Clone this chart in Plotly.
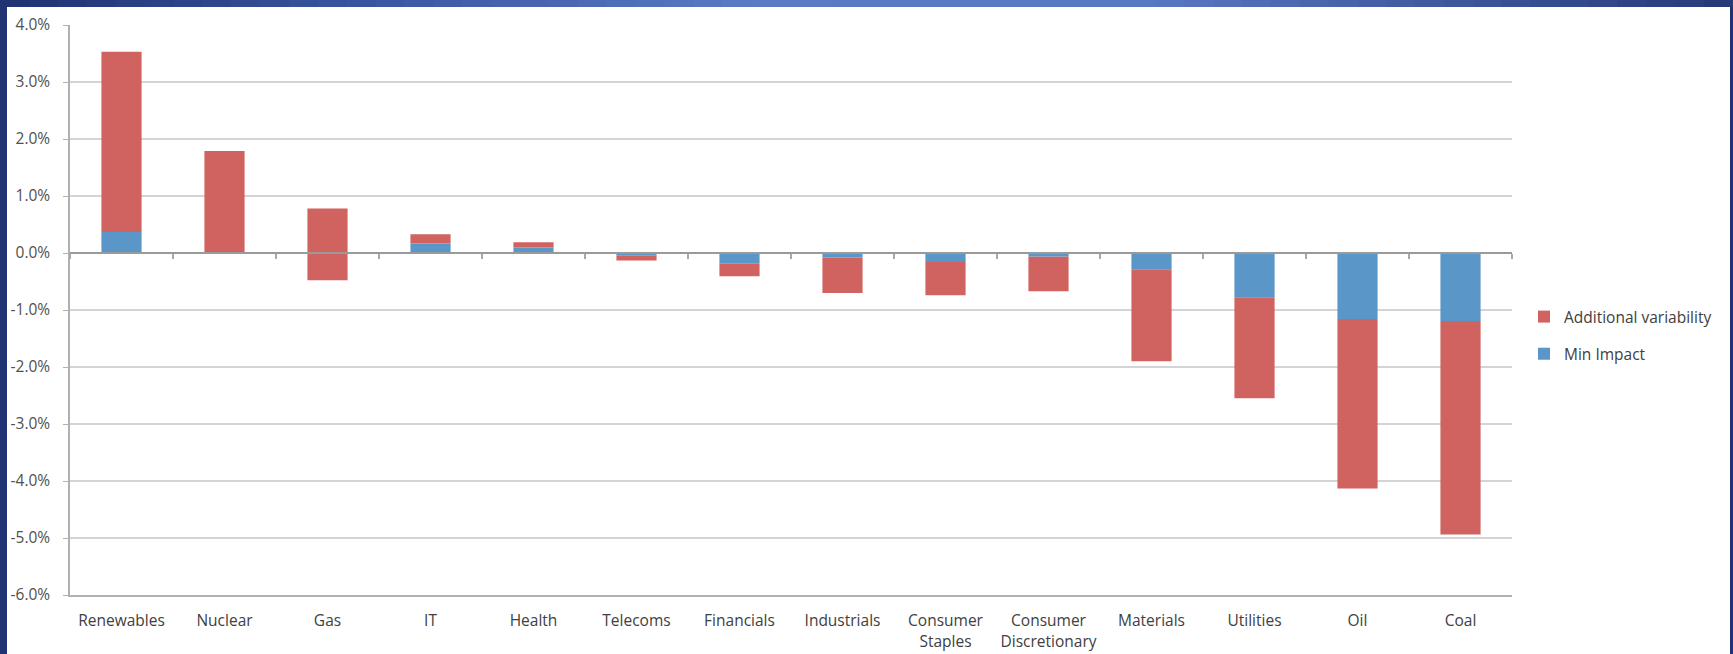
import plotly.graph_objects as go

# ---- data (percent) ----
categories = ["Renewables", "Nuclear", "Gas", "IT", "Health", "Telecoms", "Financials",
              "Industrials", "Consumer<br>Staples", "Consumer<br>Discretionary",
              "Materials", "Utilities", "Oil", "Coal"]
min_impact = [0.37, 0.0, 0.0, 0.165, 0.095, -0.05, -0.19, -0.08, -0.16, -0.06,
              -0.285, -0.775, -1.16, -1.195]
add_start = [0.37, 0.0, -0.48, 0.165, 0.095, -0.05, -0.19, -0.08, -0.16, -0.06,
             -0.285, -0.775, -1.16, -1.195]
add_end = [3.53, 1.79, 0.78, 0.33, 0.19, -0.13, -0.41, -0.70, -0.74, -0.67,
           -1.90, -2.55, -4.13, -4.94]
y_ticks = [4, 3, 2, 1, 0, -1, -2, -3, -4, -5, -6]

RED = "#D0635F"
BLUE = "#5B96C8"
FONT = "Open Sans"
FS = 15.5

W, H = 1733, 654
L, R, T, B = 70, 1512, 25, 595

fig = go.Figure()
fig.add_trace(go.Bar(
    name="Additional variability", x=categories, legendgroup="a",
    y=[e - s for s, e in zip(add_start, add_end)], base=add_start,
    marker=dict(color=RED, line=dict(width=0)), hoverinfo="skip"))
fig.add_trace(go.Bar(
    name="Min Impact", x=categories, y=min_impact, base=[0] * len(categories),
    legendgroup="b",
    marker=dict(color=BLUE, line=dict(width=0)), hoverinfo="skip"))
# dummy trace carrying the zero-crossing category axis
fig.add_trace(go.Scatter(x=categories, y=[None] * len(categories), xaxis="x2",
                         showlegend=False, hoverinfo="skip", mode="lines"))

def px(xp):
    return (xp - L) / (R - L)

def py(yp):
    return (B - yp) / (B - T)

shapes = []
# white panel
shapes.append(dict(type="rect", xref="paper", yref="paper", layer="below",
                   x0=px(7), x1=px(1730), y0=py(660), y1=py(7),
                   fillcolor="white", line=dict(width=0)))
# top gradient band
stops = [(0, (31, 50, 112)), (350, (56, 84, 158)), (750, (90, 122, 196)),
         (1150, (88, 120, 194)), (1450, (62, 88, 156)), (1733, (38, 56, 118))]
n = 60
for i in range(n):
    xa = W * i / n
    xb = W * (i + 1) / n
    xm = (xa + xb) / 2
    for (p0, c0), (p1, c1) in zip(stops[:-1], stops[1:]):
        if p0 <= xm <= p1:
            t = (xm - p0) / (p1 - p0)
            c = tuple(int(round(a + (b - a) * t)) for a, b in zip(c0, c1))
            break
    shapes.append(dict(type="rect", xref="paper", yref="paper", layer="below",
                       x0=px(xa), x1=px(xb + 1), y0=py(7), y1=py(-2),
                       fillcolor="rgb(%d,%d,%d)" % c, line=dict(width=0)))

xrange = [-0.5, len(categories) - 0.5]

fig.update_layout(
    width=W, height=H,
    margin=dict(l=L, r=W - R, t=T, b=H - B, pad=0, autoexpand=False),
    paper_bgcolor="#1F3472",
    plot_bgcolor="white",
    barmode="overlay",
    bargap=0.61,
    font=dict(family=FONT, size=FS, color="#404040"),
    shapes=shapes,
    showlegend=True,
    legend=dict(x=px(1524), y=py(300), xanchor="left", yanchor="top",
                traceorder="grouped", bgcolor="rgba(0,0,0,0)",
                font=dict(family=FONT, size=FS, color="#404040"),
                itemwidth=30, tracegroupgap=14),
    xaxis=dict(type="category", range=xrange, autorange=False, showgrid=False,
               automargin=False,
               showline=True, linecolor="#b0b0b0", linewidth=1.5, ticks="",
               tickfont=dict(family=FONT, size=FS, color="#404040"),
               ticklabelstandoff=11, fixedrange=True),
    xaxis2=dict(type="category", overlaying="x", anchor="free", position=0.6,
                range=xrange, autorange=False, automargin=False,
                showgrid=False, showline=True, linecolor="#9a9a9a",
                linewidth=1.5, ticks="outside", ticklen=5, tickwidth=1.5,
                tickcolor="#a8a8a8", tickson="boundaries", showticklabels=False,
                side="bottom", layer="above traces", fixedrange=True),
    yaxis=dict(range=[-6, 4], tickvals=y_ticks, automargin=False,
               ticktext=["%.1f%%" % v for v in y_ticks],
               showgrid=True, gridcolor="#d4d4d4", gridwidth=2,
               zeroline=False, showline=True, linecolor="#b0b0b0", linewidth=1.5,
               ticks="outside", ticklen=5, tickcolor="#b0b0b0",
               tickfont=dict(family=FONT, size=FS, color="#505050"),
               ticklabelstandoff=10, fixedrange=True),
)

fig.write_html("out.html")
